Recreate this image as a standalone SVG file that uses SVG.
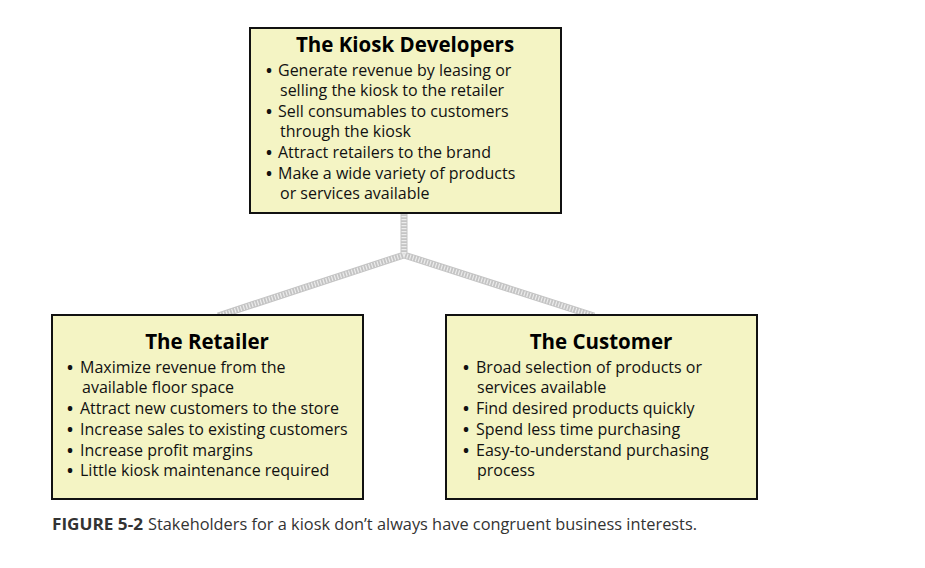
<svg xmlns="http://www.w3.org/2000/svg" width="925" height="568" viewBox="0 0 925 568">
<style>
.box{fill:#F4F4C4;stroke:#111;stroke-width:2}
.title{font-family:"Open Sans","Noto Sans",sans-serif;font-weight:bold;font-size:20.5px;fill:#000;text-anchor:middle}
.body{font-family:"Open Sans","Noto Sans",sans-serif;font-size:16px;fill:#111}
.b{font-weight:bold}
.cap{font-family:"Open Sans","Noto Sans",sans-serif;font-size:16.5px;fill:#333}
.band{fill:none;stroke:#c4c4c4;stroke-width:7;stroke-linejoin:miter}
.hatch{fill:none;stroke:#ececec;stroke-width:5;stroke-dasharray:1.2 1.8}
</style>
<g id="connectors">
<path class="band" d="M404,213 V255 M404,255 L218,316 M404,255 L594,316"/>
<path class="hatch" d="M404,213 V255 M404,255 L218,316 M404,255 L594,316"/>
</g>
<g id="developers">
<rect class="box" x="250" y="28" width="311" height="185"/>
<text class="title" x="405" y="52">The Kiosk Developers</text>
<text class="body">
<tspan class="b" x="266" y="76">•</tspan><tspan x="278" y="76">Generate revenue by leasing or</tspan>
<tspan x="280" y="96">selling the kiosk to the retailer</tspan>
<tspan class="b" x="266" y="117">•</tspan><tspan x="278" y="117">Sell consumables to customers</tspan>
<tspan x="280" y="137">through the kiosk</tspan>
<tspan class="b" x="266" y="158">•</tspan><tspan x="278" y="158">Attract retailers to the brand</tspan>
<tspan class="b" x="266" y="179">•</tspan><tspan x="278" y="179">Make a wide variety of products</tspan>
<tspan x="280" y="199">or services available</tspan>
</text>
</g>
<g id="retailer">
<rect class="box" x="52" y="315" width="311" height="184"/>
<text class="title" x="207" y="349">The Retailer</text>
<text class="body">
<tspan class="b" x="67" y="373">•</tspan><tspan x="80" y="373">Maximize revenue from the</tspan>
<tspan x="82" y="393">available floor space</tspan>
<tspan class="b" x="67" y="414">•</tspan><tspan x="80" y="414">Attract new customers to the store</tspan>
<tspan class="b" x="67" y="435">•</tspan><tspan x="80" y="435">Increase sales to existing customers</tspan>
<tspan class="b" x="67" y="456">•</tspan><tspan x="80" y="456">Increase profit margins</tspan>
<tspan class="b" x="67" y="476">•</tspan><tspan x="80" y="476">Little kiosk maintenance required</tspan>
</text>
</g>
<g id="customer">
<rect class="box" x="446" y="315" width="311" height="184"/>
<text class="title" x="601" y="349">The Customer</text>
<text class="body">
<tspan class="b" x="463" y="373">•</tspan><tspan x="476" y="373">Broad selection of products or</tspan>
<tspan x="477" y="393">services available</tspan>
<tspan class="b" x="463" y="414">•</tspan><tspan x="476" y="414">Find desired products quickly</tspan>
<tspan class="b" x="463" y="435">•</tspan><tspan x="476" y="435">Spend less time purchasing</tspan>
<tspan class="b" x="463" y="456">•</tspan><tspan x="476" y="456">Easy-to-understand purchasing</tspan>
<tspan x="477" y="476">process</tspan>
</text>
</g>
<text class="cap" y="530"><tspan x="52" font-weight="bold" textLength="91" lengthAdjust="spacingAndGlyphs">FIGURE 5-2</tspan><tspan x="148" textLength="549" lengthAdjust="spacingAndGlyphs">Stakeholders for a kiosk don’t always have congruent business interests.</tspan></text>
</svg>
